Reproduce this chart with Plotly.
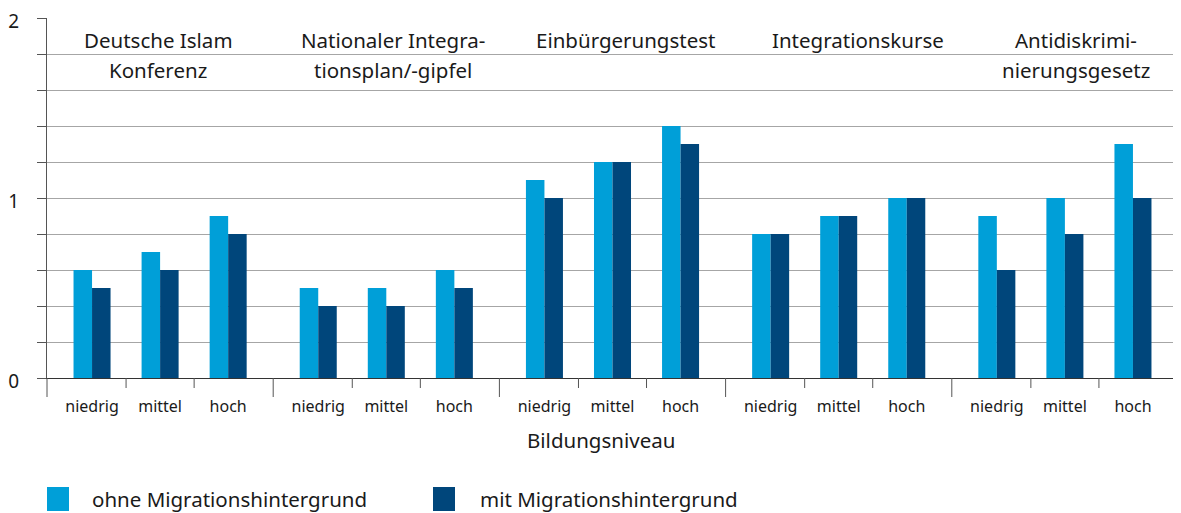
import plotly.graph_objects as go

# --- data -------------------------------------------------------------
GROUPS = [
    "Deutsche Islam<br>Konferenz",
    "Nationaler Integra-<br>tionsplan/-gipfel",
    "Einbürgerungstest",
    "Integrationskurse",
    "Antidiskrimi-<br>nierungsgesetz",
]
LEVELS = ["niedrig", "mittel", "hoch"]
SERIES = ["ohne Migrationshintergrund", "mit Migrationshintergrund"]
X_TITLE = "Bildungsniveau"

OHNE = [0.6, 0.7, 0.9,
        0.5, 0.5, 0.6,
        1.1, 1.2, 1.4,
        0.8, 0.9, 1.0,
        0.9, 1.0, 1.3]
MIT = [0.5, 0.6, 0.8,
       0.4, 0.4, 0.5,
       1.0, 1.2, 1.3,
       0.8, 0.9, 1.0,
       0.6, 0.8, 1.0]

Y_TICKS = [0, 1, 2]

# --- styling ----------------------------------------------------------
LIGHT = "#009fd8"
DARK = "#00467b"
FONT = "Noto Sans"
TEXT = "#1a1a1a"
GRID = "#a6a6a6"
AXIS = "#555555"

# page body has an 8px margin, so the figure is a bit smaller
W, H = 1173, 505
L, R, T, B = 39, 3, 10, 135
PW, PH = W - L - R, H - T - B
# plot area in page pixels (used for placing decorations)
P_LEFT, P_BOTTOM = 47, 378

PAD = 11 / 68                 # padding at each side of a group (in category units)
GW = len(LEVELS) + 2 * PAD    # width of one group
TITLE_SHIFT = [-2, 7, 13, 19, 11]

x_pos = [g * GW + PAD + 0.5 + c for g in range(len(GROUPS)) for c in range(len(LEVELS))]
x_text = LEVELS * len(GROUPS)


def px_x(px):
    return (px - P_LEFT) / PW


def px_y(py):
    return (P_BOTTOM - py) / PH


fig = go.Figure()
fig.add_trace(go.Bar(x=x_pos, y=OHNE, name=SERIES[0], marker_color=LIGHT,
                     marker_line_width=0, showlegend=False))
fig.add_trace(go.Bar(x=x_pos, y=MIT, name=SERIES[1], marker_color=DARK,
                     marker_line_width=0, showlegend=False))

shapes = []
# short ticks between categories
for g in range(len(GROUPS)):
    for c in range(1, len(LEVELS)):
        xv = g * GW + PAD + c
        shapes.append(dict(type="line", xref="x", yref="paper", x0=xv, x1=xv,
                           y0=0, y1=px_y(388), line=dict(color=AXIS, width=1)))
# long separator ticks between groups
for g in range(len(GROUPS) + 1):
    xv = g / len(GROUPS)
    shapes.append(dict(type="line", xref="paper", yref="paper", x0=xv, x1=xv,
                       y0=0, y1=px_y(397), line=dict(color=AXIS, width=1)))

# legend swatches
legend_px = [(47, 90), (433, 478)]
for (sx, tx), col in zip(legend_px, [LIGHT, DARK]):
    shapes.append(dict(type="rect", xref="paper", yref="paper",
                       x0=px_x(sx), x1=px_x(sx + 22), y0=px_y(511), y1=px_y(487),
                       fillcolor=col, line=dict(width=0)))

annotations = []
for g, title in enumerate(GROUPS):
    xc = g * GW + GW / 2
    for i, line in enumerate(title.split("<br>")):
        annotations.append(dict(x=xc, xref="x", y=px_y(40 + 30 * i), yref="paper",
                                text=line, showarrow=False, xanchor="center",
                                yanchor="middle", xshift=TITLE_SHIFT[g],
                                font=dict(size=20.5, color=TEXT, family=FONT)))
for (sx, tx), name in zip(legend_px, SERIES):
    annotations.append(dict(x=px_x(tx), xref="paper", y=px_y(499), yref="paper",
                            text=name, showarrow=False, xanchor="left",
                            yanchor="middle",
                            font=dict(size=20.5, color=TEXT, family=FONT)))
# x axis title
annotations.append(dict(x=px_x(601), xref="paper", y=px_y(440), yref="paper",
                        text=X_TITLE, showarrow=False, xanchor="center",
                        yanchor="middle",
                        font=dict(size=20.5, color=TEXT, family=FONT)))

fig.update_layout(
    width=W,
    height=H,
    autosize=False,
    margin=dict(l=L, r=R, t=T, b=B),
    plot_bgcolor="white",
    paper_bgcolor="white",
    font=dict(family=FONT, color=TEXT, size=16),
    barmode="group",
    bargap=0.456,
    bargroupgap=0,
    shapes=shapes,
    annotations=annotations,
    xaxis=dict(
        range=[0, len(GROUPS) * GW],
        tickvals=x_pos,
        ticktext=x_text,
        ticks="",
        ticklabelstandoff=14,
        tickfont=dict(size=16, color=TEXT),
        showgrid=False,
        zeroline=False,
        showline=True,
        linecolor="#333333",
        linewidth=1,
        automargin=False,
    ),
    yaxis=dict(
        range=[0, 2],
        tickvals=Y_TICKS,
        ticks="outside",
        ticklen=9,
        tickcolor=AXIS,
        ticklabelstandoff=14,
        ticklabelshift=3,
        ticklabeloverflow="allow",
        tickfont=dict(size=19, color=TEXT),
        showgrid=True,
        gridcolor=GRID,
        gridwidth=1,
        zeroline=False,
        showline=True,
        linecolor=AXIS,
        linewidth=1,
        automargin=False,
        minor=dict(dtick=0.2, ticks="outside", ticklen=9, tickcolor=AXIS,
                   showgrid=True, gridcolor=GRID, gridwidth=1),
    ),
)

fig.write_html("out.html")
